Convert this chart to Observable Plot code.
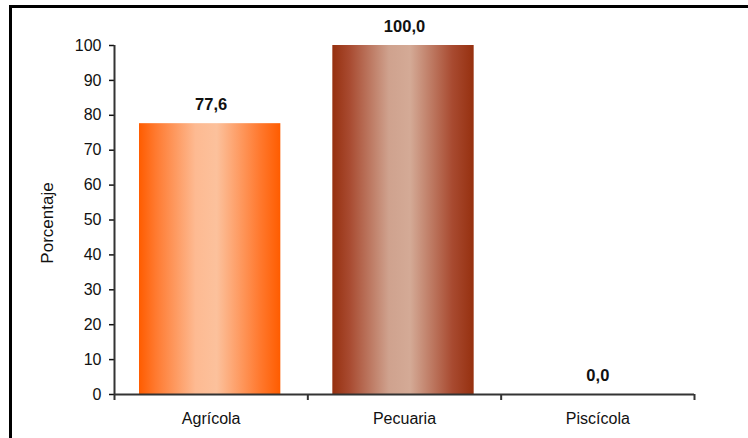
<!DOCTYPE html>
<html>
<head>
<meta charset="utf-8">
<script src="https://cdn.jsdelivr.net/npm/d3@7"></script>
<script src="https://cdn.jsdelivr.net/npm/@observablehq/plot@0.6"></script>
<style>
  html, body { margin: 0; padding: 0; background: #fff; overflow: hidden; }
</style>
</head>
<body>
<div id="chart"></div>
<script>
const categories = ["Agrícola", "Pecuaria", "Piscícola"];
const values = [77.6, 100.0, 0.0];
const valueLabels = ["77,6", "100,0", "0,0"];
const yTicks = [0, 10, 20, 30, 40, 50, 60, 70, 80, 90, 100];
const yLabel = "Porcentaje";
const gradients = [
  [["0%", "#ff5c00"], ["12%", "#ff7a30"], ["40%", "#fdba92"], ["55%", "#fcc19c"], ["85%", "#ff7a30"], ["100%", "#ff5c00"]],
  [["0%", "#96300f"], ["12%", "#a84a30"], ["40%", "#cfa28e"], ["55%", "#d4aa96"], ["85%", "#a84a30"], ["100%", "#96300f"]]
];

const data = categories.map((c, i) => ({i, category: c, value: values[i], label: valueLabels[i]}));

const svg = Plot.plot({
  width: 736,
  height: 430,
  marginLeft: 102,
  marginRight: 54,
  marginTop: 37,
  marginBottom: 44,
  style: "display:block;margin:5px 0 0 9px;border-top:3px solid #000;border-left:3px solid #000;font-family:'Liberation Sans',Arial,sans-serif;font-size:16px;color:#111;background:#fff;",
  x: {type: "linear", domain: [0, categories.length], axis: null},
  y: {domain: [0, 100], axis: null},
  color: {type: "identity"},
  marks: [
    Plot.rectY(data, {
      x1: d => d.i, x2: d => d.i + 1, y1: 0, y2: "value",
      insetLeft: 25, insetRight: 27,
      fill: d => `url(#grad${d.i})`
    }),
    Plot.axisY({ticks: yTicks, tickSize: 5, tickPadding: 8, tickFormat: d => String(d), label: null, strokeWidth: 1.5, fontSize: 16}),
    Plot.axisX({ticks: [0, 1, 2, 3], tickSize: 6, tickFormat: () => "", label: null, strokeWidth: 2, stroke: "#333"}),
    Plot.axisX({ticks: categories.map((c, i) => i + 0.5), tickSize: 0, tickPadding: 18.5, tickFormat: t => categories[Math.floor(t)], label: null, fontSize: 16}),
    Plot.ruleY([0], {stroke: "#333", strokeWidth: 2}),
    Plot.ruleX([0], {stroke: "#333", strokeWidth: 2}),
    Plot.text(data, {
      x: d => d.i + 0.5, y: "value", text: "label",
      lineAnchor: "bottom", dy: -14, fontWeight: "bold", fontSize: 16.5, fill: "#111"
    }),
    Plot.text([yLabel], {frameAnchor: "left", textAnchor: "middle", lineAnchor: "middle", rotate: -90, dx: -67, dy: 3, fontSize: 17, fill: "#111"})
  ]
});

const defs = d3.select(svg).insert("defs", ":first-child");
gradients.forEach((stops, i) => {
  const g = defs.append("linearGradient")
    .attr("id", `grad${i}`)
    .attr("x1", "0%").attr("x2", "100%").attr("y1", "0%").attr("y2", "0%");
  stops.forEach(([o, c]) => g.append("stop").attr("offset", o).attr("stop-color", c));
});

document.getElementById("chart").appendChild(svg);
</script>
</body>
</html>
